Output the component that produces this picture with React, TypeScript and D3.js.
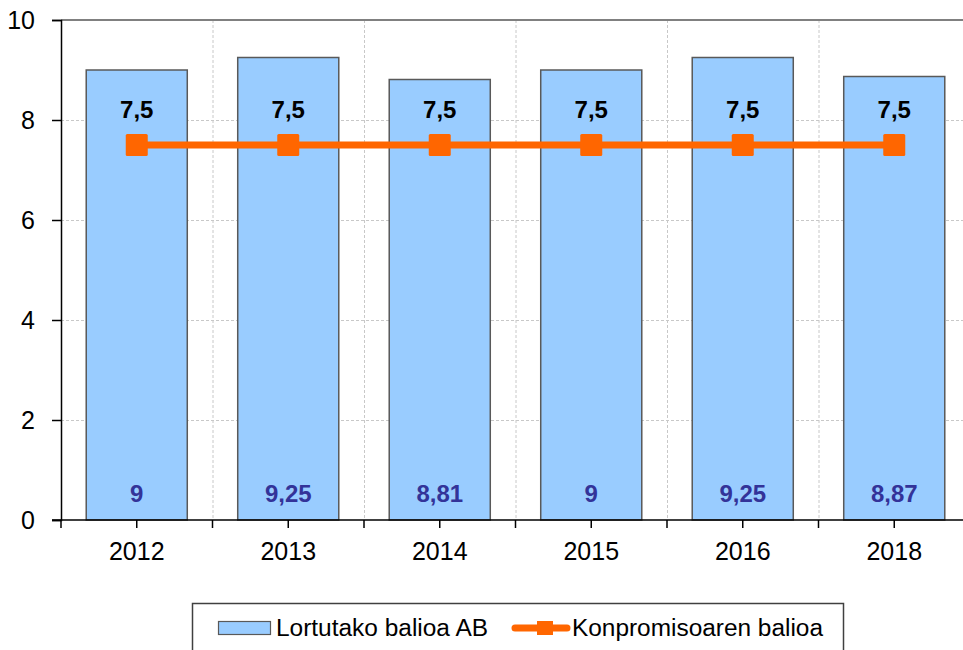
import React, { useEffect, useRef } from "react";
import * as d3 from "d3";

const years = ["2012", "2013", "2014", "2015", "2016", "2018"];
const achieved = [9, 9.25, 8.81, 9, 9.25, 8.87];
const commitment = [7.5, 7.5, 7.5, 7.5, 7.5, 7.5];
const yTicks = [0, 2, 4, 6, 8, 10];

const fmt = (v: number) => String(v).replace(".", ",");

export default function App() {
  const ref = useRef<SVGSVGElement | null>(null);

  useEffect(() => {
    const svg = d3.select(ref.current);
    svg.selectAll("*").remove();

    const width = 963;
    const height = 650;
    const left = 61, right = 970, top = 20, bottom = 520;
    const font = "'Liberation Sans', Arial, sans-serif";

    const x = d3.scaleBand<string>().domain(years).range([left, right]).padding(0);
    const y = d3.scaleLinear().domain([0, 10]).range([bottom, top]);
    const barW = x.bandwidth() * 0.667;
    const cx = (d: string) => (x(d) as number) + x.bandwidth() / 2;

    svg.attr("width", width).attr("height", height);
    svg.append("rect").attr("width", width).attr("height", height).attr("fill", "#fff");

    // grid
    const grid = svg.append("g").attr("stroke", "#c8c8c8").attr("stroke-width", 1).attr("stroke-dasharray", "3,2");
    grid.selectAll("line.h")
      .data(yTicks.filter(t => t > 0 && t < 10))
      .join("line")
      .attr("x1", left).attr("x2", right)
      .attr("y1", d => y(d) + 0.5).attr("y2", d => y(d) + 0.5);
    grid.selectAll("line.v")
      .data(years.slice(1))
      .join("line")
      .attr("x1", d => (x(d) as number) + 0.5).attr("x2", d => (x(d) as number) + 0.5)
      .attr("y1", top).attr("y2", bottom);

    // top border
    svg.append("line")
      .attr("x1", left).attr("x2", right)
      .attr("y1", top).attr("y2", top)
      .attr("stroke", "#808080").attr("stroke-width", 2);

    // bars
    svg.selectAll("rect.bar")
      .data(years)
      .join("rect")
      .attr("class", "bar")
      .attr("x", d => cx(d) - barW / 2)
      .attr("width", barW)
      .attr("y", (d, i) => y(achieved[i]))
      .attr("height", (d, i) => bottom - y(achieved[i]))
      .attr("fill", "#99ccff")
      .attr("stroke", "#595959")
      .attr("stroke-width", 1.5);

    // y axis
    const yAxis = svg.append("g")
      .attr("transform", `translate(${left},0)`)
      .call(d3.axisLeft(y).tickValues(yTicks).tickSize(9).tickPadding(17).tickFormat(d => String(d)));
    yAxis.select(".domain").attr("stroke", "#000").attr("stroke-width", 1.5);
    yAxis.selectAll(".tick line").attr("stroke", "#000").attr("stroke-width", 1.5);
    yAxis.selectAll(".tick text").attr("font-family", font).attr("font-size", 25).attr("fill", "#000");

    // x axis
    const xAxis = svg.append("g").attr("transform", `translate(0,${bottom})`);
    xAxis.append("line")
      .attr("x1", left - 9).attr("x2", right)
      .attr("stroke", "#000").attr("stroke-width", 1.5);
    const tickXs = years.map(d => x(d) as number).concat(years.map(cx));
    xAxis.selectAll("line.tick")
      .data(tickXs)
      .join("line")
      .attr("x1", d => d).attr("x2", d => d)
      .attr("y1", 0).attr("y2", 8)
      .attr("stroke", "#000").attr("stroke-width", 1.5);
    xAxis.selectAll("text")
      .data(years)
      .join("text")
      .attr("x", cx)
      .attr("y", 40)
      .attr("text-anchor", "middle")
      .attr("font-family", font)
      .attr("font-size", 25)
      .text(d => d);

    // commitment line
    const line = d3.line<number>()
      .x((d, i) => cx(years[i]))
      .y(d => y(d));
    svg.append("path")
      .datum(commitment)
      .attr("d", line)
      .attr("fill", "none")
      .attr("stroke", "#ff6600")
      .attr("stroke-width", 7);
    svg.selectAll("rect.marker")
      .data(commitment)
      .join("rect")
      .attr("class", "marker")
      .attr("x", (d, i) => cx(years[i]) - 11)
      .attr("y", d => y(d) - 11)
      .attr("width", 22).attr("height", 22)
      .attr("rx", 1.5)
      .attr("fill", "#ff6600");

    // labels
    svg.selectAll("text.cl")
      .data(commitment)
      .join("text")
      .attr("class", "cl")
      .attr("x", (d, i) => cx(years[i]))
      .attr("y", d => y(d) - 27)
      .attr("text-anchor", "middle")
      .attr("font-family", font)
      .attr("font-weight", "bold")
      .attr("font-size", 24)
      .attr("fill", "#000")
      .text(d => fmt(d));
    svg.selectAll("text.al")
      .data(achieved)
      .join("text")
      .attr("class", "al")
      .attr("x", (d, i) => cx(years[i]))
      .attr("y", bottom - 18)
      .attr("text-anchor", "middle")
      .attr("font-family", font)
      .attr("font-weight", "bold")
      .attr("font-size", 24)
      .attr("fill", "#333399")
      .text(d => fmt(d));

    // legend
    const lg = svg.append("g");
    lg.append("rect")
      .attr("x", 192.5).attr("y", 603.5)
      .attr("width", 651).attr("height", 60)
      .attr("fill", "#fff").attr("stroke", "#404040").attr("stroke-width", 1.5);
    lg.append("rect")
      .attr("x", 218.5).attr("y", 621.5)
      .attr("width", 52).attr("height", 13)
      .attr("fill", "#99ccff").attr("stroke", "#595959").attr("stroke-width", 1.2);
    lg.append("text")
      .attr("x", 276).attr("y", 636)
      .attr("font-family", font).attr("font-size", 23)
      .attr("textLength", 212).attr("lengthAdjust", "spacingAndGlyphs")
      .text("Lortutako balioa AB");
    lg.append("line")
      .attr("x1", 515).attr("x2", 567)
      .attr("y1", 628).attr("y2", 628)
      .attr("stroke", "#ff6600").attr("stroke-width", 7).attr("stroke-linecap", "round");
    lg.append("rect")
      .attr("x", 537).attr("y", 621)
      .attr("width", 16).attr("height", 14)
      .attr("fill", "#ff6600");
    lg.append("text")
      .attr("x", 572).attr("y", 636)
      .attr("font-family", font).attr("font-size", 23)
      .attr("textLength", 251).attr("lengthAdjust", "spacingAndGlyphs")
      .text("Konpromisoaren balioa");
  }, []);

  return <svg ref={ref} style={{ position: "absolute", left: 0, top: 0 }} />;
}
